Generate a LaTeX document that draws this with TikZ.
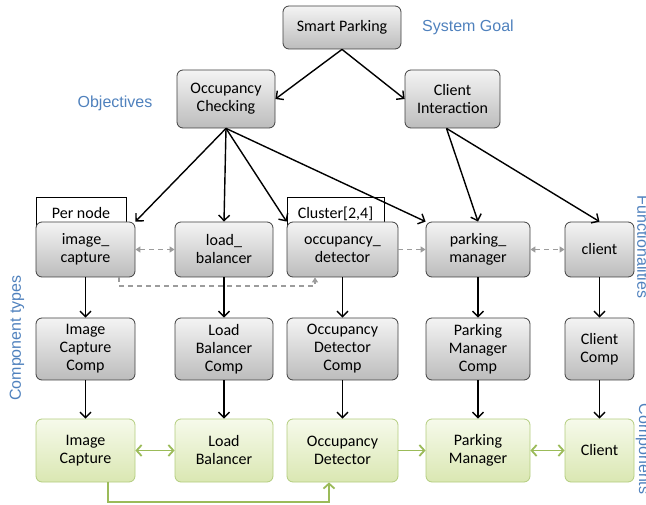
\documentclass[tikz,border=0pt]{standalone}
\usepackage{fontspec}
\setmainfont{Carlito}
\newfontfamily\lblfont{Liberation Sans}
\usetikzlibrary{arrows.meta}

\definecolor{goalblue}{HTML}{4F81BD}
\definecolor{boxedge}{HTML}{3F3F3F}
\definecolor{graytop}{HTML}{F4F4F4}
\definecolor{graybot}{HTML}{BCBCBC}
\definecolor{greenedge}{HTML}{B3CD7E}
\definecolor{greentop}{HTML}{F6FAEB}
\definecolor{greenbot}{HTML}{DAE7B2}
\definecolor{greenarrow}{HTML}{9BBB59}
\definecolor{dashgray}{HTML}{9C9C9C}

\tikzset{
  boxtext/.style={align=center, font=\fontsize{16}{18}\selectfont, inner sep=0pt},
  graybox/.style={boxtext, draw=boxedge, line width=0.8pt, rounded corners=6pt,
    top color=graytop, bottom color=graybot},
  greenbox/.style={boxtext, draw=greenedge, line width=0.8pt, rounded corners=6pt,
    top color=greentop, bottom color=greenbot},
  tagbox/.style={boxtext, draw=black, line width=0.7pt, fill=white, anchor=north,
    minimum height=32pt},
  lbl/.style={text=goalblue, font=\lblfont\fontsize{16}{18}\selectfont, inner sep=0pt},
  flow/.style={line width=1.4pt, -{Straight Barb[length=5.5pt,width=11pt]}},
  dashflow/.style={dashgray, line width=1.4pt, dash pattern=on 5pt off 4pt,
    -{Triangle[length=5pt,width=6pt]}},
  dashboth/.style={dashflow, {Triangle[length=5pt,width=6pt]}-{Triangle[length=5pt,width=6pt]}},
  greenflow/.style={greenarrow, line width=1.8pt, -{Straight Barb[length=5pt,width=11pt]}},
  greenboth/.style={greenflow, {Straight Barb[length=5pt,width=11pt]}-{Straight Barb[length=5pt,width=11pt]}},
}

\begin{document}
\begin{tikzpicture}[x=1pt, y=-1pt]
\useasboundingbox (0,0) rectangle (646,505);

% goal and objectives
\node[graybox, minimum width=118pt, minimum height=43pt] (sp) at (342,27.5) {Smart Parking};
\node[graybox, minimum width=98pt, minimum height=58pt] (oc) at (226,99) {Occupancy\\Checking};
\node[graybox, minimum width=95pt, minimum height=58pt] (ci) at (452.5,99) {Client\\Interaction};

% deployment tags behind the functionality boxes
\node[tagbox, minimum width=90pt] (pernode) at (81,197) {Per node};
\node[tagbox, minimum width=97pt] (cluster) at (335.5,197) {Cluster[2,4]};

% functionalities
\node[graybox, minimum width=99pt, minimum height=55pt] (f1) at (85.5,249.5) {image\_\\capture};
\node[graybox, minimum width=98pt, minimum height=55pt] (f2) at (224,249.5) {load\_\\balancer};
\node[graybox, minimum width=111pt, minimum height=55pt] (f3) at (342.5,249.5) {occupancy\_\\detector};
\node[graybox, minimum width=104pt, minimum height=55pt] (f4) at (478,249.5) {parking\_\\manager};
\node[graybox, minimum width=69pt, minimum height=55pt] (f5) at (599.5,249.5) {client};

% component types
\node[graybox, minimum width=99pt, minimum height=62pt] (c1) at (85.5,349) {Image\\Capture\\Comp};
\node[graybox, minimum width=98pt, minimum height=62pt] (c2) at (224,349) {Load\\Balancer\\Comp};
\node[graybox, minimum width=111pt, minimum height=62pt] (c3) at (342.5,349) {Occupancy\\Detector\\Comp};
\node[graybox, minimum width=104pt, minimum height=62pt] (c4) at (478,349) {Parking\\Manager\\Comp};
\node[graybox, minimum width=69pt, minimum height=62pt] (c5) at (599.5,349) {Client\\Comp};

% components
\node[greenbox, minimum width=99pt, minimum height=63pt] (g1) at (85.5,450.5) {Image\\Capture};
\node[greenbox, minimum width=98pt, minimum height=63pt] (g2) at (224,450.5) {Load\\Balancer};
\node[greenbox, minimum width=111pt, minimum height=63pt] (g3) at (342.5,450.5) {Occupancy\\Detector};
\node[greenbox, minimum width=104pt, minimum height=63pt] (g4) at (478,450.5) {Parking\\Manager};
\node[greenbox, minimum width=69pt, minimum height=63pt] (g5) at (599.5,450.5) {Client};

% level labels
\node[lbl] (lgoal) at (468,27) {System Goal};
\node[lbl] (lobj) at (115,103) {Objectives};
\node[lbl, rotate=90] (ltypes) at (17,338) {Component types};
\node[lbl, rotate=-90] (lfunc) at (643,247) {Functionalities};
\node[lbl, rotate=-90] (lcomp) at (643,449) {Components};

% refinement arrows
\draw[flow] (sp.south) -- (oc.east);
\draw[flow] (sp.south) -- (ci.west);
\draw[flow] (oc.south) -- (f1.north east);
\draw[flow] (oc.south) -- (f2.north);
\draw[flow] (oc.south) -- (f3.north west);
\draw[flow] (oc.south) -- (f4.north west);
\draw[flow] ([xshift=-6pt]ci.south) -- (f4.north);
\draw[flow] ([xshift=-6pt]ci.south) -- (f5.north);

% interactions between functionalities
\draw[dashboth] (f1.east) -- (f2.west);
\draw[dashflow] (f3.east) -- (f4.west);
\draw[dashboth] (f4.east) -- (f5.west);
\draw[dashflow] ([xshift=33.5pt]f1.south) |- (315,286) -- ([xshift=-27.5pt]f3.south);

% functionalities -> types -> components
\foreach \i in {1,...,5} {
  \draw[flow] (f\i.south) -- (c\i.north);
  \draw[flow] (c\i.south) -- (g\i.north);
}

% component bindings
\draw[greenboth] (g1.east) -- (g2.west);
\draw[greenflow] (g3.east) -- (g4.west);
\draw[greenboth] (g4.east) -- (g5.west);
\draw[greenflow] ([xshift=22.5pt]g1.south) |- (329,502) -- ([xshift=-13.5pt]g3.south);
\end{tikzpicture}
\end{document}
